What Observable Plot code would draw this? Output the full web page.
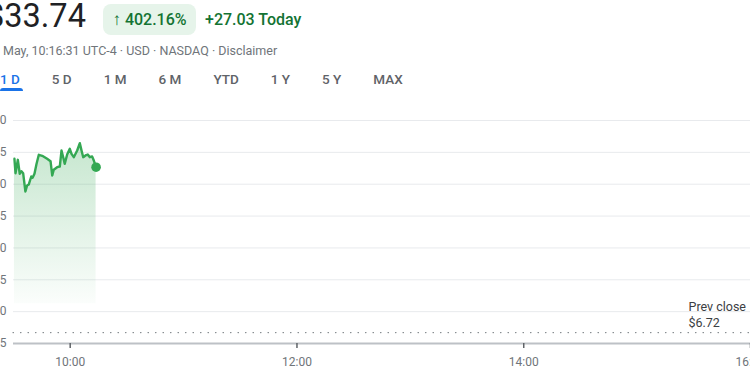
<!DOCTYPE html>
<html>
<head>
<meta charset="utf-8">
<script src="https://cdn.jsdelivr.net/npm/d3@7"></script>
<script src="https://cdn.jsdelivr.net/npm/@observablehq/plot@0.6"></script>
<style>
  html, body { margin: 0; padding: 0; background: #fff; width: 750px; height: 375px; overflow: hidden; font-family: Roboto, "Noto Sans", sans-serif; }
  #wrap { position: relative; width: 750px; height: 375px; overflow: hidden; }
  .price { position: absolute; left: -14px; top: -3px; font-size: 32.5px; color: #202124; white-space: nowrap; }
  .pill { position: absolute; left: 103px; top: 4px; width: 93px; height: 31px; background: #e6f4ea; border-radius: 8px; color: #137333; font-size: 16px; font-weight: 500; line-height: 31px; text-align: center; white-space: nowrap; }
  .pill b { font-size: 17px; font-weight: 700; }
  .today { position: absolute; left: 205px; top: 4px; line-height: 31px; color: #137333; font-size: 16px; font-weight: 500; white-space: nowrap; }
  .meta { position: absolute; left: 3px; top: 43px; font-size: 12.5px; color: #70757a; white-space: nowrap; }
  .tabs { position: absolute; left: 0px; top: 70px; display: flex; gap: 32px; font-size: 13.5px; font-weight: 500; color: #5f6368; white-space: nowrap; }
  .tab { position: relative; height: 18px; line-height: 18px; }
  .tab.active { color: #1a73e8; }
  .tab.active::after { content: ""; position: absolute; left: 0; right: -3px; top: 18px; height: 3px; background: #1a73e8; border-radius: 3px 3px 0 0; }
  #chart { position: absolute; left: -37px; top: 100px; width: 810px; height: 275px; }
  #chart svg { max-width: none !important; }
</style>
</head>
<body>
<div id="wrap">
  <div class="price" id="price"></div>
  <div class="pill" id="pill"></div>
  <div class="today" id="today"></div>
  <div class="meta" id="meta"></div>
  <div class="tabs" id="tabs"></div>
  <div id="chart"></div>
</div>
<script>
// ---- data ----
const priceText = "$33.74";
const changePct = "402.16%";
const changeAbs = "+27.03 Today";
const metaText = "May, 10:16:31 UTC-4 · USD · NASDAQ · Disclaimer";
const tabLabels = ["1 D", "5 D", "1 M", "6 M", "YTD", "1 Y", "5 Y", "MAX"];
const activeTab = "1 D";

const times = ["09:30:30","09:31:04","09:32:18","09:33:18","09:34:12","09:35:06","09:36:18","09:37:12","09:38:06","09:39:24",
  "09:40:06","09:41:06","09:42:12","09:43:24","09:45:12","09:47:48","09:49:36","09:50:30","09:51:18","09:53:06",
  "09:54:30","09:55:24","09:56:18","09:57:06","09:58:24","09:59:48","10:00:42","10:01:54","10:03:42","10:05:06",
  "10:06:00","10:06:54","10:08:06","10:09:18","10:10:24","10:11:36","10:12:30","10:13:42"];
const prices = [33.99,31.73,33.83,31.64,32.05,31.73,28.86,29.80,29.96,31.21,
  31.01,31.64,33.20,34.62,34.46,33.99,33.61,31.37,32.26,32.67,
  32.78,35.29,34.24,33.20,34.66,35.56,34.77,34.24,35.29,36.43,
  35.29,34.24,34.51,34.66,34.24,34.35,33.72,32.67];
const prevClose = 6.72;
const areaBase = 11.25;
const sessionStart = "09:30:00";
const sessionEnd = "16:00:00";
const xTickTimes = ["10:00:00", "12:00:00", "14:00:00", "16:00:00"];
const yTicks = [5, 10, 15, 20, 25, 30, 35, 40];

// ---- header ----
document.getElementById("price").textContent = priceText;
const pill = document.getElementById("pill");
const arrow = document.createElement("b");
arrow.textContent = "\u2191";
pill.appendChild(arrow);
pill.appendChild(document.createTextNode(" " + changePct));
document.getElementById("today").textContent = changeAbs;
document.getElementById("meta").textContent = metaText;
const tabs = document.getElementById("tabs");
tabLabels.forEach(t => {
  const d = document.createElement("div");
  d.className = "tab" + (t === activeTab ? " active" : "");
  d.textContent = t;
  tabs.appendChild(d);
});

// ---- chart ----
const parse = d3.utcParse("%Y-%m-%d %H:%M:%S");
const day = "2024-05-24 ";
const T = s => parse(day + s);
const data = times.map((t, i) => ({time: T(t), price: prices[i]}));
const last = data[data.length - 1];
const green = "#34a853";

const plot = Plot.plot({
  width: 810,
  height: 275,
  marginLeft: 50,
  marginRight: 23,
  marginTop: 20,
  marginBottom: 32,
  style: {fontFamily: "Roboto, sans-serif", fontSize: "12px", color: "#70757a", background: "transparent", maxWidth: "none"},
  x: {type: "utc", domain: [T(sessionStart), T(sessionEnd)]},
  y: {domain: [5, 40]},
  marks: [
    Plot.ruleY(yTicks.filter(v => v > 5), {stroke: "#e8eaed", strokeWidth: 1}),
    Plot.axisY({ticks: yTicks, tickSize: 0, tickPadding: 7, anchor: "left", label: null, fill: "#70757a"}),
    Plot.areaY(data, {x: "time", y1: () => areaBase, y2: "price", fill: "url(#fadeGrad)", curve: "linear"}),
    Plot.ruleY([prevClose], {stroke: "#80868b", strokeWidth: 1.2, strokeDasharray: "0.5,7", strokeLinecap: "round"}),
    Plot.ruleY([5], {stroke: "#bdc1c6", strokeWidth: 2}),
    Plot.axisX({ticks: xTickTimes.map(T), tickFormat: d3.utcFormat("%H:%M"), tickSize: 5, tickPadding: 9, stroke: "#5f6368", strokeWidth: 1.5, label: null, fill: "#70757a"}),
    Plot.lineY(data, {x: "time", y: "price", stroke: green, strokeWidth: 2.4, strokeLinejoin: "round"}),
    Plot.dot([last], {x: "time", y: "price", r: 4.8, fill: green}),
    Plot.text([prevClose], {x: () => T(sessionEnd), y: d => d, text: d => "Prev close\n$" + d.toFixed(2),
      textAnchor: "start", lineAnchor: "bottom", dx: -62, dy: -6, fontSize: 12.5, fill: "#3c4043", lineHeight: 1.25})
  ]
});

const svgNS = "http://www.w3.org/2000/svg";
const defs = document.createElementNS(svgNS, "defs");
defs.innerHTML = '<linearGradient id="fadeGrad" x1="0" y1="0" x2="0" y2="1">' +
  '<stop offset="0" stop-color="' + green + '" stop-opacity="0.28"/>' +
  '<stop offset="1" stop-color="' + green + '" stop-opacity="0.02"/></linearGradient>';
plot.insertBefore(defs, plot.firstChild);
document.getElementById("chart").appendChild(plot);
</script>
</body>
</html>
